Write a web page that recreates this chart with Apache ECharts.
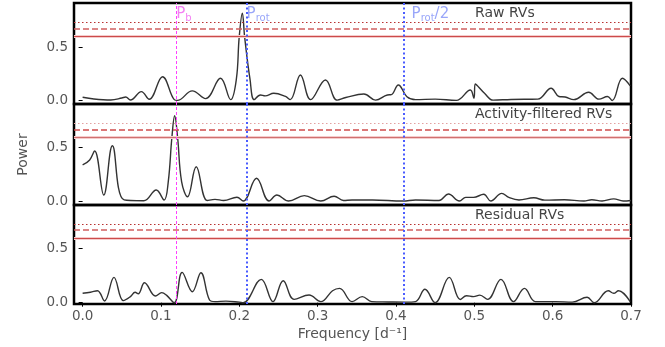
<!DOCTYPE html>
<html>
<head>
<meta charset="utf-8">
<script src="https://cdn.jsdelivr.net/npm/echarts@6/dist/echarts.min.js"></script>
<style>
  html, body { margin: 0; padding: 0; background: #fff; }
  #chart { width: 665px; height: 347px; }
</style>
</head>
<body>
<div id="chart"></div>
<script>
// Periodogram power for the three RV data sets
const rawFreq  = [0.0, 0.0144, 0.036, 0.050, 0.055, 0.061, 0.075, 0.085, 0.102, 0.117, 0.121, 0.140, 0.157, 0.176, 0.189, 0.1962, 0.1999, 0.2039, 0.2068, 0.2137, 0.219, 0.227, 0.233, 0.244, 0.259, 0.265, 0.278, 0.291, 0.310, 0.325, 0.336, 0.359, 0.374, 0.389, 0.394, 0.403, 0.414, 0.425, 0.450, 0.477, 0.4949, 0.4995, 0.5012, 0.513, 0.524, 0.547, 0.581, 0.598, 0.608, 0.616, 0.627, 0.646, 0.659, 0.670, 0.676, 0.689, 0.699];
const rawPower = [0.032, 0.016, 0.007, 0.025, 0.035, 0.007, 0.085, 0.013, 0.226, 0.010, 0.003, 0.092, 0.020, 0.211, 0.010, 0.200, 0.600, 0.824, 0.600, 0.200, 0.010, 0.054, 0.045, 0.070, 0.040, 0.010, 0.242, 0.010, 0.195, 0.005, 0.030, 0.063, 0.005, 0.054, 0.057, 0.148, 0.038, 0.010, 0.015, 0.003, 0.100, 0.023, 0.157, 0.070, 0.005, 0.012, 0.015, 0.117, 0.040, 0.035, 0.010, 0.079, 0.015, 0.040, 0.002, 0.211, 0.140];

const actFreq  = [0.0, 0.009, 0.0153, 0.027, 0.038, 0.053, 0.078, 0.094, 0.104, 0.1093, 0.1140, 0.1175, 0.1212, 0.1264, 0.134, 0.145, 0.159, 0.169, 0.180, 0.197, 0.205, 0.222, 0.238, 0.248, 0.263, 0.283, 0.304, 0.321, 0.333, 0.344, 0.370, 0.409, 0.425, 0.455, 0.467, 0.481, 0.489, 0.499, 0.512, 0.521, 0.535, 0.544, 0.557, 0.576, 0.590, 0.615, 0.640, 0.650, 0.663, 0.678, 0.690, 0.700];
const actPower = [0.338, 0.385, 0.469, 0.056, 0.519, 0.010, 0.002, 0.103, 0.010, 0.180, 0.600, 0.800, 0.600, 0.180, 0.040, 0.322, 0.005, 0.015, 0.005, 0.035, 0.000, 0.213, 0.000, 0.056, 0.000, 0.050, 0.000, 0.045, 0.005, 0.010, 0.010, 0.000, 0.010, 0.005, 0.066, 0.000, 0.034, 0.034, 0.063, 0.000, 0.072, 0.034, 0.010, 0.030, 0.008, 0.012, 0.000, 0.012, 0.000, 0.020, 0.000, 0.005];

const resFreq  = [0.0, 0.010, 0.019, 0.028, 0.040, 0.052, 0.061, 0.067, 0.071, 0.079, 0.093, 0.101, 0.107, 0.117, 0.127, 0.140, 0.151, 0.162, 0.169, 0.183, 0.200, 0.205, 0.228, 0.243, 0.256, 0.270, 0.289, 0.304, 0.319, 0.328, 0.344, 0.357, 0.369, 0.390, 0.412, 0.425, 0.437, 0.450, 0.468, 0.482, 0.490, 0.499, 0.507, 0.517, 0.534, 0.550, 0.564, 0.578, 0.604, 0.625, 0.644, 0.653, 0.671, 0.678, 0.684, 0.699];
const resPower = [0.087, 0.097, 0.111, 0.016, 0.235, 0.019, 0.056, 0.097, 0.083, 0.185, 0.062, 0.093, 0.070, 0.000, 0.281, 0.102, 0.278, 0.025, 0.010, 0.015, 0.005, 0.000, 0.216, 0.010, 0.204, 0.031, 0.071, 0.010, 0.111, 0.133, 0.010, 0.056, 0.010, 0.007, 0.005, 0.010, 0.124, 0.000, 0.235, 0.030, 0.065, 0.056, 0.070, 0.031, 0.216, 0.010, 0.133, 0.010, 0.010, 0.005, 0.050, 0.000, 0.111, 0.087, 0.111, 0.010];

// False-alarm-probability levels (0.1 %, 1 %, 10 %)
const rawFap = [0.740, 0.680, 0.607];
const actFap = [0.735, 0.672, 0.600];
const resFap = [0.730, 0.676, 0.605];

// Binary period, rotation period and its first harmonic (frequencies, 1/d)
const pbFreq = 0.117;
const protFreq = 0.2055;
const protHalfFreq = 0.411;

const panelTitles = ['Raw RVs', 'Activity-filtered RVs', 'Residual RVs'];
const freqTicks = [0.0, 0.1, 0.2, 0.3, 0.4, 0.5, 0.6, 0.7];
const powerTicks = [0.0, 0.5];

const zip = (xs, ys) => xs.map((x, i) => [x, ys[i]]);
const panels = [
  { data: zip(rawFreq, rawPower), fap: rawFap, yMin: -0.031, yMax: 0.919, fapColors: ['#b83030', '#d06060', '#cc4a4a'] },
  { data: zip(actFreq, actPower), fap: actFap, yMin: -0.0375, yMax: 0.91, fapColors: ['#e4a0a0', '#cf4c4c', '#d07070'] },
  { data: zip(resFreq, resPower), fap: resFap, yMin: -0.012, yMax: 0.905, fapColors: ['#b83030', '#d06060', '#cc4a4a'] }
];

const FONT = 'DejaVu Sans';
const gridTops = [3, 104, 205];
const gridHeights = [101, 101, 99];

const chart = echarts.init(document.getElementById('chart'), null, { renderer: 'canvas' });

const grids = panels.map((p, i) => ({
  left: 74, top: gridTops[i], width: 557, height: gridHeights[i],
  show: true, borderColor: '#000', borderWidth: 2.5, backgroundColor: 'transparent'
}));

const xAxes = panels.map((p, i) => ({
  type: 'value', gridIndex: i, min: -0.011, max: 0.7,
  splitLine: { show: false },
  axisLine: { show: false },
  axisTick: { show: i === 2, length: 4, customValues: freqTicks, lineStyle: { color: '#000' } },
  axisLabel: {
    show: i === 2, customValues: freqTicks, margin: 5,
    formatter: v => v.toFixed(1), color: '#555', fontFamily: FONT, fontSize: 13.5
  },
  name: i === 2 ? 'Frequency [d⁻¹]' : '',
  nameLocation: 'middle', nameGap: 23,
  nameTextStyle: { color: '#555', fontFamily: FONT, fontSize: 14 }
}));

const yAxes = panels.map((p, i) => ({
  type: 'value', gridIndex: i, min: p.yMin, max: p.yMax,
  splitLine: { show: false },
  axisLine: { show: false },
  axisTick: { show: true, length: 4, customValues: powerTicks, lineStyle: { color: '#000' } },
  axisLabel: {
    customValues: powerTicks, margin: 6,
    formatter: v => v.toFixed(1), color: '#555', fontFamily: FONT, fontSize: 13.5
  },
  name: i === 1 ? 'Power' : '',
  nameLocation: 'middle', nameGap: 44,
  nameTextStyle: { color: '#555', fontFamily: FONT, fontSize: 14 }
}));

const series = panels.map((p, i) => ({
  type: 'line', xAxisIndex: i, yAxisIndex: i,
  data: p.data, smooth: 0.4, showSymbol: false, symbol: 'none',
  lineStyle: { color: '#333', width: 1.4 },
  clip: true, silent: true, animation: false,
  markLine: {
    silent: true, symbol: 'none', animation: false,
    label: { show: false },
    data: [
      { yAxis: p.fap[0], lineStyle: { color: p.fapColors[0], type: [1.5, 2.5], width: 1.2 } },
      { yAxis: p.fap[1], lineStyle: { color: p.fapColors[1], type: [6, 3], width: 1.5 } },
      { yAxis: p.fap[2], lineStyle: { color: '#f5cccc', type: 'solid', width: 3 } },
      { yAxis: p.fap[2], lineStyle: { color: p.fapColors[2], type: 'solid', width: 1.2 } },
      { xAxis: pbFreq, lineStyle: { color: '#ff40ff', type: [3, 2], width: 1 } },
      { xAxis: protFreq, lineStyle: { color: '#4a5cff', type: [2, 2.5], width: 2 } },
      { xAxis: protHalfFreq, lineStyle: { color: '#4a5cff', type: [2, 2.5], width: 2 } }
    ]
  }
}));

// Period labels along the top of the first panel
function periodLabel(freq, sub, tail, color, dist) {
  return {
    type: 'scatter', xAxisIndex: 0, yAxisIndex: 0, symbolSize: 0,
    silent: true, animation: false,
    data: [[freq, 0.81]],
    label: {
      show: true, position: 'right', distance: dist,
      formatter: '{p|P}{s|' + sub + '}' + (tail ? '{p|' + tail + '}' : ''),
      rich: {
        p: { color: color, fontFamily: FONT, fontSize: 15, lineHeight: 18 },
        s: { color: color, fontFamily: FONT, fontSize: 10, lineHeight: 10, verticalAlign: 'bottom' }
      }
    }
  };
}
series.push(periodLabel(pbFreq, 'b', '', '#f060f0', 2));
series.push(periodLabel(protFreq, 'rot', '', '#8090f8', 3));
series.push(periodLabel(protHalfFreq, 'rot', '/2', '#8090f8', 7));

const titles = panelTitles.map((t, i) => ({
  text: t, left: 475, top: gridTops[i] + 3, padding: 0,
  textStyle: { color: '#444', fontFamily: FONT, fontSize: 14, fontWeight: 'normal' }
}));

chart.setOption({
  animation: false,
  title: titles,
  grid: grids,
  xAxis: xAxes,
  yAxis: yAxes,
  series: series
});
</script>
</body>
</html>
